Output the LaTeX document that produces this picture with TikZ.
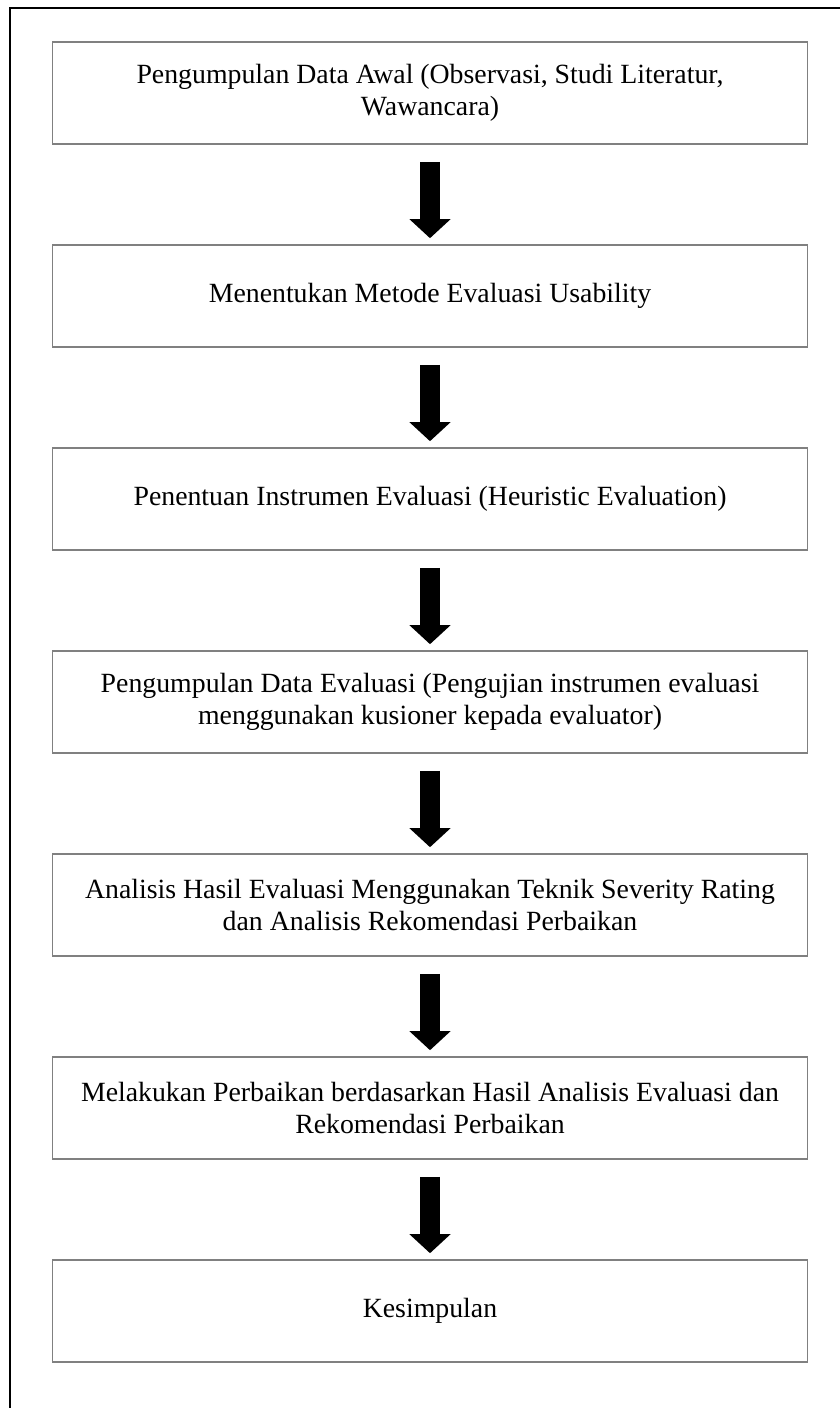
\documentclass[tikz,border=0pt]{standalone}
\usepackage{fontspec}
\setmainfont{Liberation Serif}
\usetikzlibrary{arrows.meta}
\begin{document}
\begin{tikzpicture}[x=1pt, y=-1pt,
  stepbox/.style={draw=gray, line width=1.6pt, minimum width=755pt, minimum height=102pt,
    align=center, inner sep=0pt, font=\fontsize{27.8}{32}\selectfont},
  bigarrow/.style={line width=20pt, -{Triangle[width=40pt, length=19pt]}}]
  \useasboundingbox (0,0) rectangle (840,1408);
  \draw[line width=2pt] (10,1408) -- (10,8) -- (840,8);
  \node[stepbox] (awal) at (430,93) {Pengumpulan Data Awal (Observasi, Studi Literatur,\\Wawancara)};
  \node[stepbox] (metode) at (430,296) {Menentukan Metode Evaluasi Usability};
  \node[stepbox] (instrumen) at (430,499) {Penentuan Instrumen Evaluasi (Heuristic Evaluation)};
  \node[stepbox] (data) at (430,702) {Pengumpulan Data Evaluasi (Pengujian instrumen evaluasi\\menggunakan kusioner kepada evaluator)};
  \node[stepbox] (analisis) at (430,905) {Analisis Hasil Evaluasi Menggunakan Teknik Severity Rating\\dan Analisis Rekomendasi Perbaikan};
  \node[stepbox] (perbaikan) at (430,1108) {Melakukan Perbaikan berdasarkan Hasil Analisis Evaluasi dan\\Rekomendasi Perbaikan};
  \node[stepbox] (simpulan) at (430,1311) {Kesimpulan};
  \draw[bigarrow] ([yshift=-17pt]awal.south) -- ([yshift=6pt]metode.north);
  \draw[bigarrow] ([yshift=-17pt]metode.south) -- ([yshift=6pt]instrumen.north);
  \draw[bigarrow] ([yshift=-17pt]instrumen.south) -- ([yshift=6pt]data.north);
  \draw[bigarrow] ([yshift=-17pt]data.south) -- ([yshift=6pt]analisis.north);
  \draw[bigarrow] ([yshift=-17pt]analisis.south) -- ([yshift=6pt]perbaikan.north);
  \draw[bigarrow] ([yshift=-17pt]perbaikan.south) -- ([yshift=6pt]simpulan.north);
\end{tikzpicture}
\end{document}
